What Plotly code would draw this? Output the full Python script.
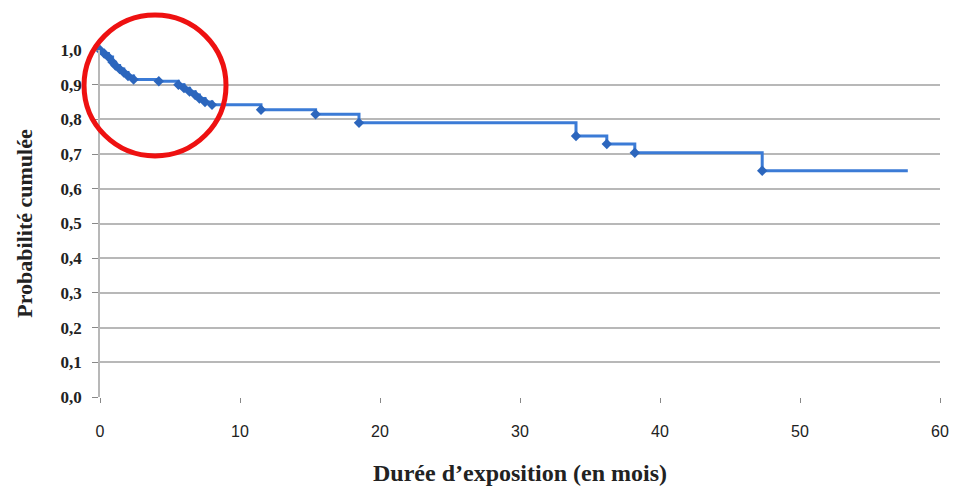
import plotly.graph_objects as go

# Kaplan-Meier style step data (months, cumulative probability)
event_times = [0, 0.3, 0.6, 0.9, 1.1, 1.4, 1.7, 2.0, 2.4, 4.2, 5.6, 6.0, 6.4, 6.8, 7.1, 7.5, 8.0,
               11.5, 15.4, 18.5, 34.0, 36.2, 38.2, 47.3, 57.7]
survival = [1.0, 0.99, 0.98, 0.965, 0.955, 0.945, 0.935, 0.925, 0.915, 0.91, 0.90, 0.89, 0.88,
            0.87, 0.86, 0.85, 0.842, 0.828, 0.815, 0.79, 0.752, 0.729, 0.704, 0.652, 0.652]
marker_times = event_times[:-1]
marker_vals = survival[:-1]

x_ticks = [0, 10, 20, 30, 40, 50, 60]
y_ticks = [0.0, 0.1, 0.2, 0.3, 0.4, 0.5, 0.6, 0.7, 0.8, 0.9, 1.0]
y_tick_labels = ["0,0", "0,1", "0,2", "0,3", "0,4", "0,5", "0,6", "0,7", "0,8", "0,9", "1,0"]

fig = go.Figure()
fig.add_trace(go.Scatter(
    x=event_times, y=survival, mode="lines", line_shape="hv",
    line=dict(color="#3b7bd6", width=3), cliponaxis=False, showlegend=False,
))
fig.add_trace(go.Scatter(
    x=marker_times, y=marker_vals, mode="markers",
    marker=dict(symbol="diamond", size=8, color="#2c66bd"),
    cliponaxis=False, showlegend=False,
))

# red highlight circle (paper coordinates)
fig.add_shape(type="circle", xref="paper", yref="paper",
              x0=-0.019, x1=0.15, y0=0.6945, y1=1.101,
              line=dict(color="#ee1111", width=5))

fig.update_layout(
    width=953, height=480,
    margin=dict(l=92, r=21, t=42, b=91, autoexpand=False),
    plot_bgcolor="white", paper_bgcolor="white",
    separators=", ",
    xaxis=dict(
        range=[0, 60], tickvals=x_ticks, ticks="outside", ticklen=5, tickcolor="#888",
        showgrid=False, zeroline=False, showline=False,
        tickfont=dict(family="Liberation Sans Narrow, Liberation Sans", size=16, color="#222"),
        ticklabelstandoff=15,
        title=dict(text="<b>Durée d’exposition (en mois)</b>", standoff=24,
                   font=dict(family="Liberation Serif", size=24, color="#222")),
    ),
    yaxis=dict(
        range=[0, 1.0], tickvals=y_ticks, ticktext=y_tick_labels,
        ticks="outside", ticklen=6, tickcolor="#888",
        showgrid=True, gridcolor="#b8b8b8", gridwidth=1.5,
        zeroline=False, showline=True, linecolor="#b8b8b8", linewidth=1.5,
        tickfont=dict(family="Liberation Serif", size=17, color="#222", weight="bold"),
        ticklabelstandoff=7,
        title=dict(text="<b>Probabilité cumulée</b>", standoff=22,
                   font=dict(family="Liberation Serif", size=22, color="#222")),
    ),
)

fig.write_html("out.html")
